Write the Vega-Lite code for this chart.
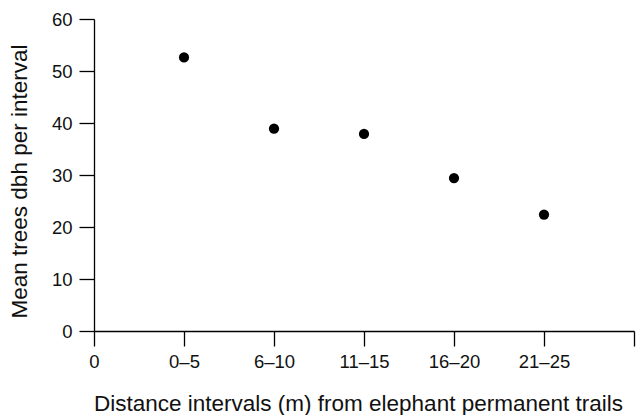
{
  "$schema": "https://vega.github.io/schema/vega-lite/v6.json",
  "autosize": "none",
  "width": 540,
  "height": 312,
  "padding": {"left": 94, "top": 19, "right": 6, "bottom": 84},
  "background": "white",
  "config": {
    "view": {"stroke": null},
    "font": "Liberation Sans",
    "axis": {
      "domainColor": "black",
      "domainWidth": 1.3,
      "tickColor": "black",
      "tickWidth": 1.3,
      "tickSize": 15,
      "labelColor": "#111",
      "labelFontSize": 18.5,
      "labelFont": "Liberation Sans",
      "titleFont": "Liberation Sans",
      "titleFontSize": 22.5,
      "titleFontWeight": "normal",
      "titleColor": "#111",
      "grid": false
    }
  },
  "data": {
    "values": [
      {"interval": "0–5", "dbh": 52.6},
      {"interval": "6–10", "dbh": 38.9},
      {"interval": "11–15", "dbh": 37.9},
      {"interval": "16–20", "dbh": 29.4},
      {"interval": "21–25", "dbh": 22.4}
    ]
  },
  "mark": {"type": "point", "filled": true, "color": "black", "opacity": 1, "size": 105},
  "encoding": {
    "x": {
      "field": "interval",
      "type": "ordinal",
      "scale": {"type": "point", "domain": ["0", "0–5", "6–10", "11–15", "16–20", "21–25", " "], "padding": 0},
      "axis": {"labelAngle": 0, "labelPadding": 6, "titleX": 264, "titleY": 79, "titleBaseline": "alphabetic", "titleAnchor": "middle", "title": "Distance intervals (m) from elephant permanent trails"}
    },
    "y": {
      "field": "dbh",
      "type": "quantitative",
      "scale": {"domain": [0, 60], "nice": false},
      "axis": {"values": [0, 10, 20, 30, 40, 50, 60], "labelPadding": 7, "titleX": -68, "titleY": 162, "titleAngle": -90, "titleBaseline": "alphabetic", "titleAnchor": "middle", "title": "Mean trees dbh per interval"}
    }
  }
}
